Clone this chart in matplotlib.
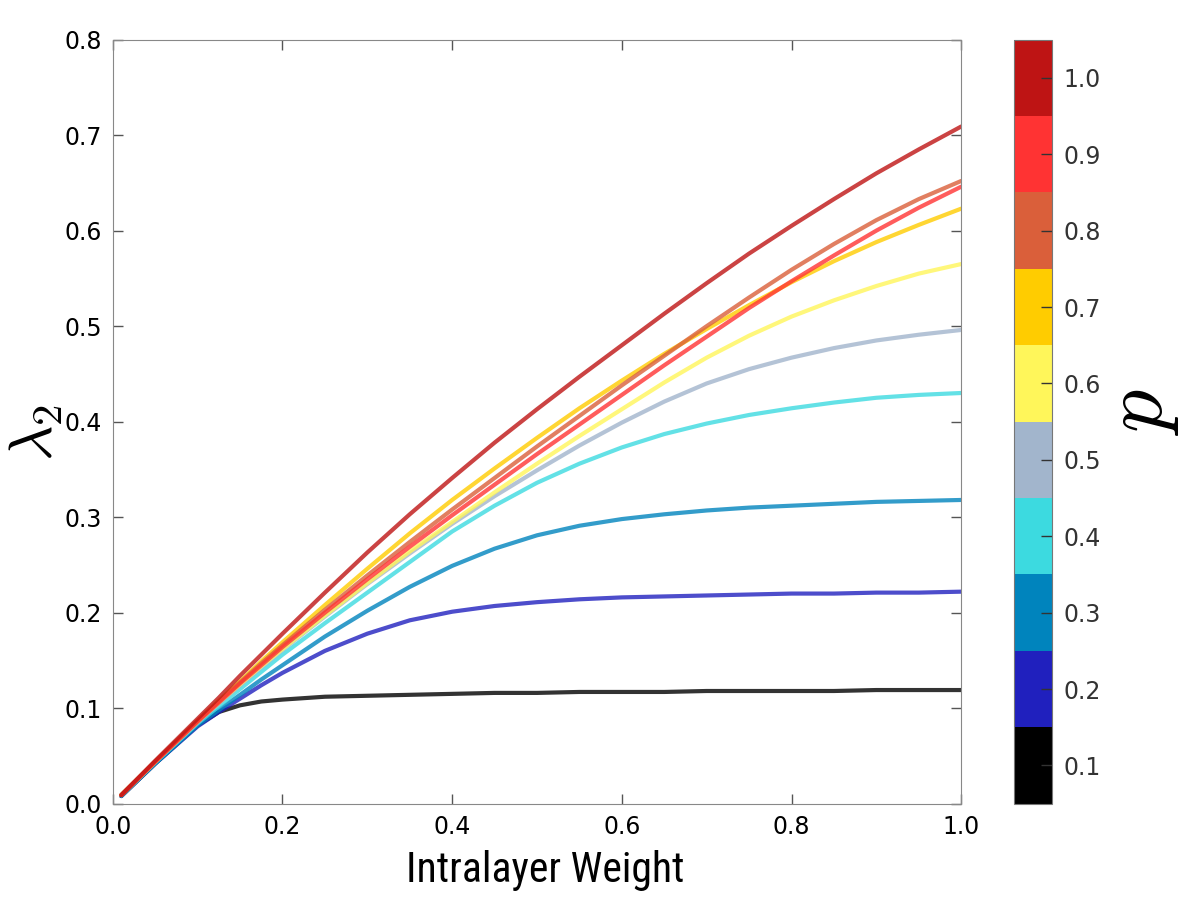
import numpy as np
import matplotlib
matplotlib.use('Agg')
import matplotlib.pyplot as plt
from matplotlib.colors import ListedColormap, BoundaryNorm
from matplotlib.cm import ScalarMappable

plt.rcParams['font.family'] = ['DejaVu Sans']
plt.rcParams['mathtext.fontset'] = 'cm'

# intralayer weight grid
w = [0.01, 0.05, 0.1, 0.125, 0.15, 0.175, 0.2, 0.25, 0.3, 0.35, 0.4, 0.45, 0.5,
     0.55, 0.6, 0.65, 0.7, 0.75, 0.8, 0.85, 0.9, 0.95, 1.0]

p_vals = [0.1, 0.2, 0.3, 0.4, 0.5, 0.6, 0.7, 0.8, 0.9, 1.0]
p_colors = ['#000000', '#2020BE', '#0084BD', '#3CDAE0', '#A2B5CC',
            '#FFF65A', '#FFCC00', '#DA5F3A', '#FF3333', '#BE1414']

lam_p01 = [0.008, 0.042, 0.082, 0.096, 0.103, 0.107, 0.109, 0.112, 0.113, 0.114, 0.115, 0.116, 0.116,
           0.117, 0.117, 0.117, 0.118, 0.118, 0.118, 0.118, 0.119, 0.119, 0.119]
lam_p02 = [0.008, 0.042, 0.081, 0.096, 0.110, 0.124, 0.137, 0.160, 0.178, 0.192, 0.201, 0.207, 0.211,
           0.214, 0.216, 0.217, 0.218, 0.219, 0.220, 0.220, 0.221, 0.221, 0.222]
lam_p03 = [0.008, 0.042, 0.082, 0.098, 0.114, 0.130, 0.145, 0.175, 0.202, 0.227, 0.249, 0.267, 0.281,
           0.291, 0.298, 0.303, 0.307, 0.310, 0.312, 0.314, 0.316, 0.317, 0.318]
lam_p04 = [0.009, 0.043, 0.084, 0.102, 0.120, 0.138, 0.156, 0.189, 0.221, 0.253, 0.285, 0.312, 0.336,
           0.356, 0.373, 0.387, 0.398, 0.407, 0.414, 0.420, 0.425, 0.428, 0.430]
lam_p05 = [0.009, 0.044, 0.085, 0.105, 0.124, 0.143, 0.161, 0.196, 0.230, 0.262, 0.293, 0.322, 0.349,
           0.375, 0.399, 0.421, 0.440, 0.455, 0.467, 0.477, 0.485, 0.491, 0.496]
lam_p06 = [0.009, 0.044, 0.086, 0.106, 0.125, 0.144, 0.162, 0.197, 0.231, 0.264, 0.295, 0.326, 0.356,
           0.385, 0.413, 0.441, 0.467, 0.490, 0.510, 0.527, 0.542, 0.555, 0.565]
lam_p07 = [0.009, 0.044, 0.087, 0.108, 0.128, 0.149, 0.169, 0.208, 0.246, 0.283, 0.318, 0.351, 0.383,
           0.414, 0.443, 0.471, 0.497, 0.522, 0.546, 0.568, 0.588, 0.606, 0.623]
lam_p08 = [0.009, 0.044, 0.087, 0.107, 0.127, 0.147, 0.166, 0.203, 0.239, 0.274, 0.308, 0.341, 0.374,
           0.406, 0.438, 0.469, 0.500, 0.530, 0.559, 0.586, 0.611, 0.633, 0.652]
lam_p09 = [0.009, 0.044, 0.086, 0.106, 0.126, 0.145, 0.164, 0.200, 0.235, 0.269, 0.302, 0.334, 0.366,
           0.397, 0.428, 0.459, 0.489, 0.519, 0.547, 0.574, 0.600, 0.624, 0.646]
lam_p10 = [0.009, 0.045, 0.089, 0.111, 0.134, 0.156, 0.178, 0.221, 0.263, 0.303, 0.341, 0.378, 0.413,
           0.447, 0.480, 0.513, 0.545, 0.576, 0.605, 0.633, 0.660, 0.685, 0.709]

curves = [lam_p01, lam_p02, lam_p03, lam_p04, lam_p05,
          lam_p06, lam_p07, lam_p08, lam_p09, lam_p10]

fig = plt.figure(figsize=(12, 9), dpi=100)
ax = fig.add_axes([0.094, 0.107, 0.707, 0.849])
cax = fig.add_axes([0.845, 0.107, 0.032, 0.849])

for lam, c in zip(curves, p_colors):
    ax.plot(w, lam, color=c, lw=3, alpha=0.8,
            solid_capstyle='round', solid_joinstyle='round')

ax.set_xlim(0, 1)
ax.set_ylim(0, 0.8)
ax.set_xticks(np.arange(0, 1.01, 0.2))
ax.set_yticks(np.arange(0, 0.81, 0.1))
ax.set_xticklabels(['%.1f' % t for t in np.arange(0, 1.01, 0.2)])
ax.set_yticklabels(['%.1f' % t for t in np.arange(0, 0.81, 0.1)])
ax.tick_params(direction='in', length=7, width=1, color='#555555',
               top=True, right=True, labelsize=17, pad=8)
for s in ax.spines.values():
    s.set_color('#888888')

ax.set_xlabel('Intralayer Weight', fontsize=30,
              family=['Roboto Condensed', 'Liberation Sans Narrow', 'Roboto'])
ax.xaxis.set_label_coords(0.51, -0.06)
ax.xaxis.label.set_va('top')
ax.set_ylabel(r'$\lambda_2$', fontsize=44, ha='center', va='center')
ax.yaxis.set_label_coords(-0.09, 0.486)

cmap = ListedColormap(p_colors)
bounds = np.arange(0.05, 1.06, 0.1)
norm = BoundaryNorm(bounds, cmap.N)
cb = fig.colorbar(ScalarMappable(norm=norm, cmap=cmap), cax=cax, ticks=p_vals)
cb.minorticks_off()
cb.ax.set_yticklabels(['%.1f' % v for v in p_vals])
cb.ax.tick_params(direction='in', length=8, width=1, color='#333333',
                  labelsize=17, labelcolor='#333333', pad=8)
cb.outline.set_edgecolor('#777777')
cb.set_label(r'$p$', fontsize=62, ha='center', va='center')
cb.ax.yaxis.set_label_coords(3.28, 0.513)

fig.savefig('out.png', dpi=100)
